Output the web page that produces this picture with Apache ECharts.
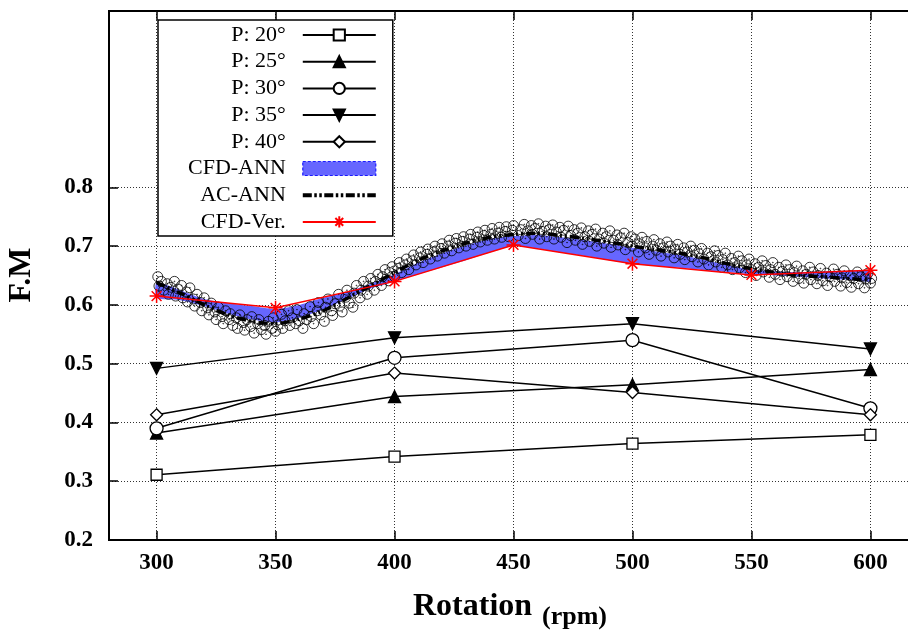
<!DOCTYPE html>
<html>
<head>
<meta charset="utf-8">
<script src="https://cdn.jsdelivr.net/npm/echarts@6/dist/echarts.min.js"></script>
<style>html,body{margin:0;padding:0;background:#fff}#c{width:908px;height:633px}</style>
</head>
<body>
<div id="c"></div>
<script>
// ---- data ----
var rpm = [300, 400, 500, 600];
var p20 = [0.311, 0.342, 0.364, 0.379];
var p25 = [0.382, 0.444, 0.464, 0.490];
var p30 = [0.390, 0.510, 0.540, 0.424];
var p35 = [0.492, 0.544, 0.568, 0.525];
var p40 = [0.413, 0.484, 0.451, 0.413];

var verX = [300, 350, 400, 450, 500, 550, 600];
var verY = [0.615, 0.595, 0.640, 0.702, 0.670, 0.651, 0.659];

var annX = [300,310,320,330,340,350,360,370,380,390,400,410,420,430,440,450,460,470,480,490,500,510,520,530,540,550,560,570,580,590,600];
var annY = [0.638,0.620,0.600,0.583,0.572,0.568,0.576,0.590,0.611,0.633,0.655,0.676,0.692,0.705,0.715,0.720,0.722,0.718,0.713,0.707,0.700,0.694,0.688,0.680,0.670,0.662,0.655,0.650,0.648,0.645,0.642];

var bandLow  = [0.612,0.608,0.598,0.585,0.575,0.570,0.578,0.592,0.610,0.628,0.640,0.652,0.664,0.676,0.689,0.700,0.696,0.689,0.683,0.676,0.670,0.666,0.663,0.659,0.656,0.652,0.650,0.648,0.645,0.643,0.640];
var bandHigh = [0.638,0.625,0.610,0.603,0.598,0.593,0.600,0.612,0.622,0.636,0.652,0.672,0.688,0.701,0.712,0.717,0.719,0.715,0.710,0.704,0.697,0.691,0.685,0.677,0.668,0.660,0.657,0.656,0.657,0.658,0.658];

var scatX = [300.5,301,302,303,304.5,305,306,307.5,308,309,310.5,311,312.5,313,314,315.5,316,317,318.5,319,320,321.5,322,323,324.5,325,326,327.5,328,329,330.5,331,332,333.5,334,335,336.5,337,338,339.5,340,341,342.5,343,344,345.5,346,347,348.5,349,350,351,352.5,353,354,355.5,356,357,358.5,359,360,361.5,362,363,364.5,365,366,367.5,368,369,370.5,371,372,373.5,374,375,376.5,377,378,379.5,380,381,382.5,383,384,385.5,386,387,388.5,389,390,391.5,392,393,394.5,395,396,397.5,398,399,400,401.5,402,403,404.5,405,406,407.5,408,409,410.5,411,412,413.5,414,415,416.5,417,418,419.5,420,421,422.5,423,424,425.5,426,427,428.5,429,430,431.5,432,433,434.5,435,436,437.5,438,439,440.5,441,442,443.5,444,445,446.5,447,448,449.5,450,452,453,454.5,455,456,457.5,458,459,460.5,461,462,463.5,464,465,466.5,467,468,469.5,470,471,472.5,473,474,475.5,476,477,478.5,479,480,481.5,482,483,484.5,485,486,487.5,488,489,490.5,491,492,493.5,494,495,496.5,497,498,499.5,500,501,502.5,503,504,505.5,506,507,508.5,509,510,511.5,512,513,514.5,515,516,517.5,518,519,520,521.5,522,523,524.5,525,526,527.5,528,529,530,531.5,532,533,534.5,535,536,537.5,538,539,540,541.5,542,543,544.5,545,546,547.5,548,549,550,551.5,552,553,554.5,555,556,557.5,558,559,560,561.5,562,563,564.5,565,566,567.5,568,569,570,571.5,572,573,574.5,575,576,577.5,578,579,580,581.5,582,583,584.5,585,586,587.5,588,589,590,591.5,592,593,594.5,595,596,597.5,598,599,600,600.5];
var scatY = [0.648,0.632,0.640,0.625,0.636,0.618,0.630,0.640,0.615,0.627,0.633,0.612,0.622,0.605,0.629,0.610,0.598,0.618,0.604,0.590,0.612,0.595,0.583,0.603,0.588,0.575,0.596,0.580,0.568,0.590,0.575,0.585,0.565,0.578,0.560,0.583,0.570,0.557,0.575,0.563,0.580,0.552,0.568,0.575,0.558,0.565,0.550,0.572,0.560,0.578,0.555,0.566,0.584,0.560,0.573,0.590,0.565,0.578,0.568,0.592,0.573,0.560,0.585,0.575,0.597,0.580,0.568,0.590,0.604,0.583,0.572,0.596,0.610,0.590,0.582,0.602,0.618,0.598,0.588,0.613,0.625,0.603,0.596,0.620,0.633,0.612,0.625,0.640,0.618,0.632,0.645,0.625,0.640,0.652,0.633,0.648,0.660,0.641,0.655,0.665,0.648,0.662,0.672,0.655,0.668,0.678,0.660,0.675,0.685,0.668,0.680,0.690,0.672,0.686,0.695,0.678,0.690,0.700,0.683,0.696,0.704,0.688,0.700,0.710,0.692,0.705,0.713,0.697,0.708,0.716,0.700,0.712,0.720,0.703,0.715,0.724,0.707,0.718,0.727,0.710,0.720,0.730,0.712,0.722,0.732,0.715,0.725,0.733,0.716,0.727,0.735,0.718,0.728,0.737,0.713,0.726,0.735,0.720,0.730,0.738,0.712,0.725,0.734,0.716,0.728,0.736,0.712,0.724,0.732,0.715,0.727,0.706,0.734,0.718,0.728,0.710,0.722,0.731,0.703,0.716,0.726,0.708,0.720,0.729,0.700,0.712,0.722,0.705,0.716,0.726,0.698,0.710,0.719,0.702,0.714,0.722,0.694,0.706,0.716,0.700,0.712,0.690,0.704,0.715,0.697,0.708,0.686,0.700,0.711,0.693,0.704,0.683,0.697,0.707,0.690,0.700,0.680,0.694,0.703,0.686,0.697,0.677,0.690,0.700,0.682,0.693,0.673,0.687,0.696,0.678,0.688,0.668,0.682,0.692,0.673,0.684,0.664,0.677,0.688,0.668,0.679,0.660,0.672,0.683,0.663,0.675,0.655,0.668,0.678,0.660,0.670,0.650,0.664,0.675,0.656,0.667,0.647,0.660,0.672,0.652,0.664,0.643,0.657,0.668,0.648,0.660,0.640,0.655,0.666,0.645,0.658,0.637,0.652,0.664,0.643,0.656,0.636,0.650,0.662,0.641,0.654,0.633,0.648,0.661,0.640,0.652,0.632,0.646,0.658,0.638,0.650,0.630,0.645,0.656,0.636,0.648,0.629,0.644,0.654,0.637,0.645];

var yTicks = [0.2, 0.3, 0.4, 0.5, 0.6, 0.7, 0.8];
var legendNames = ['P: 20°', 'P: 25°', 'P: 30°', 'P: 35°', 'P: 40°', 'CFD-ANN', 'AC-ANN', 'CFD-Ver.'];

// ---- build ----
function pairs(xs, ys) { return xs.map(function (x, i) { return [x, ys[i]]; }); }
var SERIF = "'Liberation Serif','Times New Roman',serif";
var BAND = '#6666ff';
var circDot = 'path://M10,0A10,10,0,1,1,9.99,0ZM10,9.2A0.8,0.8,0,1,1,9.99,9.2Z';
var star = 'path://M0,10L20,10M10,0L10,20M3,3L17,17M17,3L3,17';
var dashIcon = 'path://M0,0h9v4h-9zM11.5,0h2.5v4h-2.5zM16.5,0h2.5v4h-2.5zM21.5,0h9v4h-9zM33,0h2.5v4h-2.5zM38,0h2.5v4h-2.5zM43,0h9v4h-9zM54.5,0h2.5v4h-2.5zM59.5,0h2.5v4h-2.5zM64.5,0h8.5v4h-8.5z';
var gridColors = yTicks.map(function () { return '#333'; }).concat(['rgba(0,0,0,0)', 'rgba(0,0,0,0)', 'rgba(0,0,0,0)', 'rgba(0,0,0,0)']);

function pSeries(name, ys, symbol, size, fill, rot) {
  return {
    name: name, type: 'line', data: pairs(rpm, ys), symbol: symbol, symbolSize: size,
    symbolRotate: rot || 0, showAllSymbol: true,
    lineStyle: { color: '#000', width: 1.5 },
    itemStyle: { color: fill, borderColor: '#000', borderWidth: 1.3 },
    z: 5, animation: false
  };
}

var chart = echarts.init(document.getElementById('c'), null, { renderer: 'canvas' });
chart.setOption({
  animation: false,
  backgroundColor: '#fff',
  grid: { left: 109, right: -10, top: 11, bottom: 93, show: true, borderColor: '#000', borderWidth: 2, containLabel: false, outerBoundsMode: 'none' },
  xAxis: [{
    type: 'value', min: 280, max: 620, splitNumber: 7,
    axisLine: { show: true, lineStyle: { color: '#000', width: 2 } },
    axisTick: { show: true, inside: true, length: 9, lineStyle: { color: '#000', width: 1.5 } },
    axisLabel: { showMinLabel: false, showMaxLabel: false, margin: 12, color: '#000', fontFamily: SERIF, fontWeight: 'bold', fontSize: 23 },
    splitLine: { show: true, lineStyle: { color: '#333', width: 1, type: [1, 2] } }
  }, {
    type: 'value', min: 280, max: 620, splitNumber: 7, position: 'top',
    axisLine: { show: false },
    axisTick: { show: true, inside: true, length: 9, lineStyle: { color: '#000', width: 1.5 } },
    axisLabel: { show: false }, splitLine: { show: false }
  }],
  yAxis: {
    type: 'value', min: 0.2, max: 1.1, interval: 0.1,
    axisLine: { show: true, lineStyle: { color: '#000', width: 2 } },
    axisTick: { show: true, inside: true, length: 9, customValues: yTicks, lineStyle: { color: '#000', width: 1.5 } },
    axisLabel: {
      customValues: yTicks, margin: 16, color: '#000', fontFamily: SERIF, fontWeight: 'bold', fontSize: 23,
      formatter: function (v) { return v > 0.85 ? '' : v.toFixed(1); }
    },
    splitLine: { show: true, lineStyle: { color: gridColors, width: 1, type: [1, 2] } }
  },
  legend: {
    show: true, orient: 'vertical', align: 'right', left: 158, top: 20,
    backgroundColor: '#fff', borderColor: '#000', borderWidth: 1.5, borderRadius: 0,
    padding: [4, 16, 3, 30], itemWidth: 73, itemHeight: 14, itemGap: 4.7,
    textStyle: { fontFamily: SERIF, fontSize: 22, color: '#000', lineHeight: 22, padding: [0, 12, 0, 0] },
    data: [
      { name: legendNames[0] }, { name: legendNames[1] }, { name: legendNames[2] }, { name: legendNames[3] }, { name: legendNames[4] },
      { name: legendNames[5], icon: 'rect', itemStyle: { color: BAND, borderColor: '#1a1aff', borderWidth: 1.2, borderType: [3, 2] } },
      { name: legendNames[6], icon: dashIcon, itemStyle: { color: '#000', borderWidth: 0 } },
      { name: legendNames[7] }
    ],
    selectedMode: false, z: 20
  },
  graphic: [
    { type: 'text', x: 22, y: 275, rotation: Math.PI / 2, style: { text: 'F.M', x: 0, y: 0, align: 'center', verticalAlign: 'middle', fontFamily: SERIF, fontWeight: 'bold', fontSize: 32, fill: '#000' } },
    { type: 'text', x: 413, y: 607, style: { text: 'Rotation', align: 'left', verticalAlign: 'middle', fontFamily: SERIF, fontWeight: 'bold', fontSize: 32, fill: '#000' } },
    { type: 'text', x: 542, y: 617, style: { text: '(rpm)', align: 'left', verticalAlign: 'middle', fontFamily: SERIF, fontWeight: 'bold', fontSize: 26, fill: '#000' } }
  ],
  series: [
    {
      name: 'CFD-ANN', type: 'custom', coordinateSystem: 'cartesian2d', clip: true, z: 1,
      data: annX.map(function (x, i) { return [x, bandLow[i], bandHigh[i]]; }),
      encode: { x: 0, y: [1, 2] },
      itemStyle: { color: BAND },
      renderItem: function (params, api) {
        if (params.dataIndex !== 0) return null;
        var pts = [];
        for (var i = 0; i < annX.length; i++) pts.push(api.coord([annX[i], bandHigh[i]]));
        for (var j = annX.length - 1; j >= 0; j--) pts.push(api.coord([annX[j], bandLow[j]]));
        return { type: 'polygon', shape: { points: pts, smooth: 0.2 }, style: { fill: BAND, stroke: null } };
      }
    },
    {
      name: 'scatter', type: 'scatter', data: pairs(scatX, scatY), symbol: circDot, symbolSize: 10,
      itemStyle: { color: 'rgba(0,0,0,0)', borderColor: '#000', borderWidth: 1 }, z: 2
    },
    {
      name: 'AC-ANN', type: 'line', data: pairs(annX, annY), smooth: 0.3, symbol: 'none',
      lineStyle: { color: '#000', width: 3.5, type: [9, 3, 2, 3, 2, 3], cap: 'butt' }, itemStyle: { color: '#000' }, z: 3
    },
    {
      name: 'CFD-Ver.', type: 'line', data: pairs(verX, verY), symbol: star, symbolSize: 14,
      lineStyle: { color: '#ff0000', width: 1.5 },
      itemStyle: { color: 'rgba(255,0,0,0)', borderColor: '#ff0000', borderWidth: 1.5 }, z: 4
    },
    pSeries('P: 20°', p20, 'rect', 11, '#fff'),
    pSeries('P: 25°', p25, 'triangle', 12, '#000'),
    pSeries('P: 30°', p30, 'circle', 13, '#fff'),
    pSeries('P: 35°', p35, 'triangle', 12, '#000', 180),
    pSeries('P: 40°', p40, 'diamond', 12, '#fff')
  ]
});
</script>
</body>
</html>
